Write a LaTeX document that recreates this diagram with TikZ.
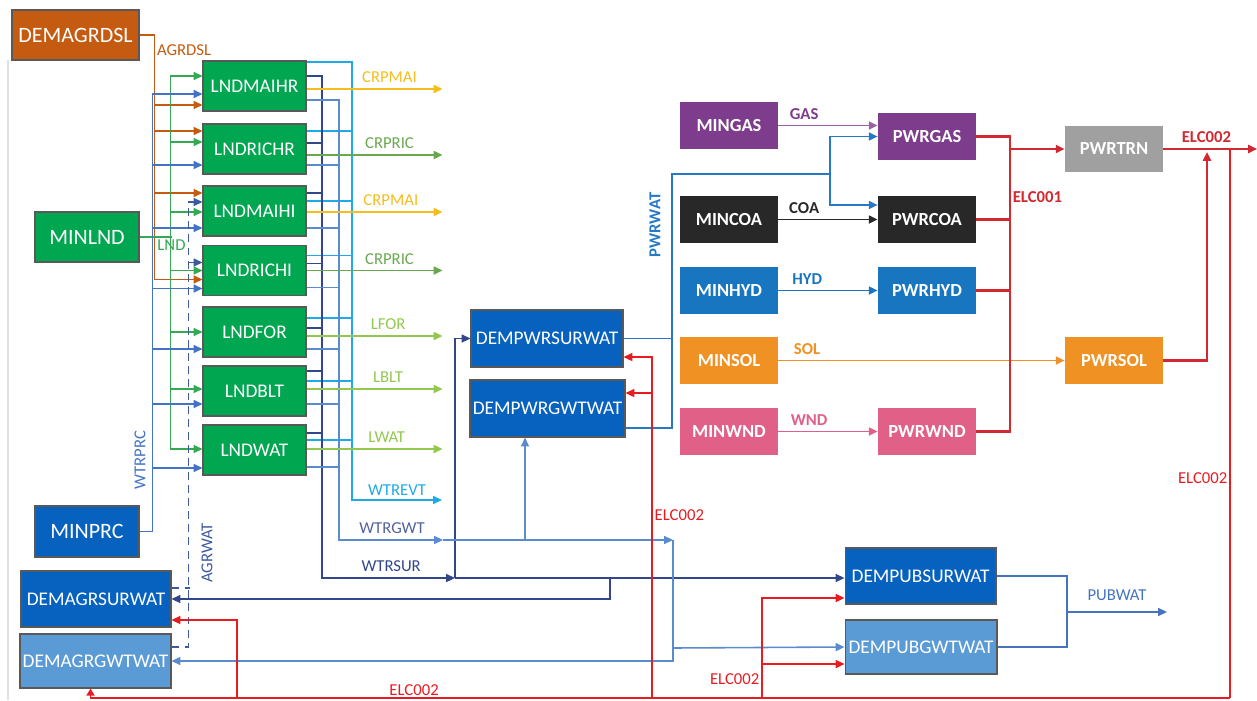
\documentclass[tikz,border=0pt]{standalone}
\usepackage{fontspec}
\setmainfont{Carlito}
\usetikzlibrary{arrows.meta,positioning,calc}
\definecolor{agrorange}{RGB}{197,90,17}
\definecolor{lndfill}{RGB}{0,166,80}
\definecolor{lndline}{RGB}{52,168,83}
\definecolor{prcblue}{RGB}{68,114,196}
\definecolor{agwblue}{RGB}{60,90,160}
\definecolor{surnavy}{RGB}{50,70,140}
\definecolor{gwtblue}{RGB}{90,140,205}
\definecolor{evtcyan}{RGB}{30,170,230}
\definecolor{maiyellow}{RGB}{245,190,30}
\definecolor{ricgreen}{RGB}{106,168,79}
\definecolor{lfgreen}{RGB}{146,200,80}
\definecolor{demblue}{RGB}{6,98,190}
\definecolor{demlight}{RGB}{91,155,213}
\definecolor{gaspurple}{RGB}{126,60,140}
\definecolor{coablack}{RGB}{40,40,40}
\definecolor{hydblue}{RGB}{24,118,192}
\definecolor{solorange}{RGB}{240,145,35}
\definecolor{wndpink}{RGB}{224,96,136}
\definecolor{trngray}{RGB}{160,160,160}
\definecolor{elcred}{RGB}{210,40,50}
\definecolor{elcbright}{RGB}{232,28,32}
\definecolor{pwwblue}{RGB}{40,120,200}
\definecolor{pubblue}{RGB}{70,115,190}

\begin{document}
\begin{tikzpicture}[
    x=0.02cm, y=-0.02cm,
    >={Triangle[length=5pt,width=4.5pt]},
    box/.style={draw=black!65, line width=0.6pt, text=white, inner sep=1pt, font=\fontsize{11}{13}\selectfont},
    bigbox/.style={box, font=\fontsize{12.5}{14}\selectfont},
    dslbox/.style={bigbox, fill=agrorange, minimum width=2.54cm, minimum height=1cm},
    lndbox/.style={box, fill=lndfill, minimum width=2.06cm, minimum height=1cm},
    tech/.style={text=white, inner sep=1pt, minimum width=1.96cm, minimum height=0.94cm, font=\fontsize{10.5}{12}\selectfont\bfseries},
    flow/.style={line width=0.9pt},
    dsl/.style={flow, draw=agrorange},
    lnd/.style={flow, draw=lndline},
    prc/.style={flow, draw=prcblue},
    agw/.style={flow, draw=agwblue},
    sur/.style={flow, line width=1pt, draw=surnavy},
    gwt/.style={flow, draw=gwtblue},
    evt/.style={flow, draw=evtcyan},
    mai/.style={flow, line width=1.1pt, draw=maiyellow},
    ric/.style={flow, line width=1.1pt, draw=ricgreen},
    lfg/.style={flow, line width=1.1pt, draw=lfgreen},
    pww/.style={flow, line width=1pt, draw=pwwblue},
    elc/.style={line width=1.2pt, draw=elcred},
    elcb/.style={line width=1.1pt, draw=elcbright},
    lbl/.style={font=\fontsize{9.5}{11}\selectfont, inner sep=1pt},
    blbl/.style={font=\fontsize{9.5}{11}\selectfont\bfseries, inner sep=1pt}
]
\useasboundingbox (0,0) rectangle (1257,700);
\draw[black!12, line width=1.5pt] (8,60) -- (8,700);

% Supply and demand boxes on the left
\node[dslbox] (demagrdsl) at (75.5,35) {DEMAGRDSL};
\node[bigbox, fill=lndfill, minimum width=2.08cm, minimum height=1cm] (minlnd) at (87,237) {MINLND};
\node[bigbox, fill=demblue, minimum width=2.08cm, minimum height=1.02cm] (minprc) at (87,531.5) {MINPRC};
\node[box, fill=demblue, minimum width=3cm, minimum height=1.12cm] (demagrsur) at (96,599) {DEMAGRSURWAT};
\node[box, fill=demlight, minimum width=3.02cm, minimum height=1.08cm] (demagrgwt) at (95.5,661) {DEMAGRGWTWAT};

% Land use technologies
\node[lndbox] (lndmaihr) at (254.5,86) {LNDMAIHR};
\node[lndbox] (lndrichr) at (254.5,149) {LNDRICHR};
\node[lndbox] (lndmaihi) at (254.5,211) {LNDMAIHI};
\node[lndbox] (lndrichi) at (254.5,270.5) {LNDRICHI};
\node[lndbox] (lndfor) at (254.5,332) {LNDFOR};
\node[lndbox] (lndblt) at (254.5,391) {LNDBLT};
\node[lndbox] (lndwat) at (254.5,450) {LNDWAT};

% Water demand of power and public sectors
\node[box, fill=demblue, minimum width=3.04cm, minimum height=1.14cm] (dempwrsur) at (547,338.5) {DEMPWRSURWAT};
\node[box, fill=demblue, minimum width=3.1cm, minimum height=1.14cm] (dempwrgwt) at (547.5,408.5) {DEMPWRGWTWAT};
\node[box, fill=demblue, minimum width=3.02cm, minimum height=1.12cm] (dempubsur) at (920.5,576) {DEMPUBSURWAT};
\node[box, fill=demlight, minimum width=3.04cm, minimum height=1.08cm] (dempubgwt) at (921,647) {DEMPUBGWTWAT};

% Fuel supply and power plants
\node[tech, fill=gaspurple] (mingas) at (729,125.5) {MINGAS};
\node[tech, fill=coablack] (mincoa) at (729,219.5) {MINCOA};
\node[tech, fill=hydblue] (minhyd) at (729,290.5) {MINHYD};
\node[tech, fill=solorange] (minsol) at (729,360.5) {MINSOL};
\node[tech, fill=wndpink] (minwnd) at (729,431.5) {MINWND};
\node[tech, fill=gaspurple] (pwrgas) at (927,136.5) {PWRGAS};
\node[tech, fill=coablack] (pwrcoa) at (927,219.5) {PWRCOA};
\node[tech, fill=hydblue] (pwrhyd) at (927,290.5) {PWRHYD};
\node[tech, fill=wndpink] (pwrwnd) at (927,431.5) {PWRWND};
\node[tech, fill=solorange] (pwrsol) at (1114,360.5) {PWRSOL};
\node[tech, fill=trngray, minimum height=0.92cm] (pwrtrn) at (1114,149) {PWRTRN};

% Junctions
\coordinate (surcorner) at (322,578);
\coordinate (sursplit) at (455,578);
\coordinate (surdrop) at (610,578);
\coordinate (gwtcorner) at (339,540);
\coordinate (gwtend) at (443,540);
\coordinate (gwtrise) at (525,540);
\coordinate (gwtsplit) at (673,540);
\coordinate (gwtpub) at (673,648);
\coordinate (evtcorner) at (352,500);
\coordinate (evtend) at (442,500);
\coordinate (pwrwatx) at (672,174);
\coordinate (pwrfork) at (830,174);
\coordinate (elcbus) at (1010,149);
\coordinate (elcout) at (1257,149);
\coordinate (solup) at (1207,152);
\coordinate (elcdown) at (1230,149);
\coordinate (elcbottom) at (1230,698);
\coordinate (agrelc) at (237,698);
\coordinate (pwrelc) at (652,698);
\coordinate (pubelc) at (762,698);
\coordinate (pubjoin) at (1067,612);
\coordinate (pubend) at (1167,612);

% AGRDSL
\draw[dsl,->] (demagrdsl.east) -| ($(lndrichi.west)+(-48,9)$) node[pos=0.53, right, lbl, text=agrorange] {AGRDSL} -- ($(lndrichi.west)+(0,9)$);
\draw[dsl,->] ($(lndmaihr.west)+(-48,19)$) -- ($(lndmaihr.west)+(0,19)$);
\draw[dsl,->] ($(lndrichr.west)+(-48,-18)$) -- ($(lndrichr.west)+(0,-18)$);
\draw[dsl,->] ($(lndmaihi.west)+(-48,-18)$) -- ($(lndmaihi.west)+(0,-18)$);

% LND
\draw[lnd] (minlnd.east) -- ++(32,0) node[below, lbl, text=lndline] {LND};
\draw[lnd,->] ($(lndwat.west)+(-32,-1)$) |- ($(lndmaihr.west)+(0,-10)$);
\draw[lnd,->] ($(lndwat.west)+(-32,-1)$) -- ($(lndwat.west)+(0,-1)$);
\draw[lnd,->] ($(lndrichr.west)+(-32,-7)$) -- ($(lndrichr.west)+(0,-7)$);
\draw[lnd,->] ($(lndmaihi.west)+(-32,1)$) -- ($(lndmaihi.west)+(0,1)$);
\draw[lnd,->] ($(lndrichi.west)+(-32,0)$) -- ($(lndrichi.west)+(0,0)$);
\draw[lnd,->] ($(lndfor.west)+(-32,0)$) -- ($(lndfor.west)+(0,0)$);
\draw[lnd,->] ($(lndblt.west)+(-32,-2)$) -- ($(lndblt.west)+(0,-2)$);

% WTRPRC
\draw[prc,->] (minprc.east) -| ($(lndmaihr.west)+(-50,8)$) -- ($(lndmaihr.west)+(0,8)$);
\draw[prc,->] ($(lndrichr.west)+(-50,16)$) -- ($(lndrichr.west)+(0,16)$);
\draw[prc,->] ($(lndmaihi.west)+(-50,17)$) -- ($(lndmaihi.west)+(0,17)$);
\draw[prc,->] ($(lndrichi.west)+(-50,18)$) -- ($(lndrichi.west)+(0,18)$);
\draw[prc,->] ($(lndfor.west)+(-50,17)$) -- ($(lndfor.west)+(0,17)$);
\draw[prc,->] ($(lndblt.west)+(-50,13)$) -- ($(lndblt.west)+(0,13)$);
\draw[prc,->] ($(lndwat.west)+(-50,18)$) -- ($(lndwat.west)+(0,18)$);
\node[lbl, text=prcblue, rotate=90] (wtrprc) at (140,460) {WTRPRC};

% AGRWAT (dashed)
\draw[agw, dash pattern=on 4.5pt off 3pt] ($(demagrgwt.east)+(0,-14)$) -| ($(lndmaihi.west)+(-14,-9)$);
\draw[agw, dash pattern=on 4.5pt off 3pt] ($(demagrsur.east)+(0,-11)$) -- ++(18,0);
\draw[agw,->] ($(lndmaihi.west)+(-14,-9)$) -- ($(lndmaihi.west)+(0,-9)$);
\draw[agw,->] ($(lndrichi.west)+(-14,-8)$) -- ($(lndrichi.west)+(0,-8)$);
\node[lbl, text=agwblue, rotate=90] (agrwat) at (207,553) {AGRWAT};

% WTREVT
\draw[evt,->] ($(lndmaihr.east)+(0,-24)$) -| (evtcorner) -- (evtend) node[pos=0.5, above=1pt, lbl, text=evtcyan] {WTREVT};
\draw[evt] ($(lndrichr.east)+(0,-18)$) -- ++(46,0);
\draw[evt] ($(lndmaihi.east)+(0,-10)$) -- ++(46,0);
\draw[evt] ($(lndrichi.east)+(0,-15)$) -- ++(46,0);
\draw[evt] ($(lndfor.east)+(0,-14)$) -- ++(46,0);
\draw[evt] ($(lndblt.east)+(0,-10)$) -- ++(46,0);
\draw[evt] ($(lndwat.east)+(0,-10)$) -- ++(46,0);

% WTRSUR
\draw[sur,->] ($(lndmaihr.east)+(0,-10)$) -| (surcorner) -- (sursplit) node[pos=0.52, above=2pt, lbl, text=surnavy] {WTRSUR};
\draw[sur] ($(lndrichr.east)+(0,-6)$) -- ++(16,0);
\draw[sur] ($(lndmaihi.east)+(0,-18)$) -- ++(16,0);
\draw[sur] ($(lndrichi.east)+(0,-7)$) -- ++(16,0);
\draw[sur] ($(lndfor.east)+(0,-4)$) -- ++(16,0);
\draw[sur] ($(lndblt.east)+(0,-20)$) -- ++(16,0);
\draw[sur] ($(lndwat.east)+(0,-17)$) -- ++(16,0);
\draw[sur,->] (sursplit) |- (dempwrsur.west);
\draw[sur,->] (sursplit) -- (sursplit -| dempubsur.west);
\draw[sur,->] (surdrop) |- (demagrsur.east);

% WTRGWT
\draw[gwt,->] ($(lndmaihr.east)+(0,14)$) -| (gwtcorner) -- (gwtend) node[pos=0.51, above=2pt, lbl, text=surnavy!85] {WTRGWT};
\draw[gwt] ($(lndrichr.east)+(0,16)$) -- ++(33,0);
\draw[gwt] ($(lndmaihi.east)+(0,17)$) -- ++(33,0);
\draw[gwt] ($(lndrichi.east)+(0,17)$) -- ++(33,0);
\draw[gwt] ($(lndfor.east)+(0,17)$) -- ++(33,0);
\draw[gwt] ($(lndblt.east)+(0,13)$) -- ++(33,0);
\draw[gwt] ($(lndwat.east)+(0,17)$) -- ++(33,0);
\draw[gwt,->] (gwtend) -- (gwtsplit);
\draw[gwt,->] (gwtrise) -- (gwtrise |- dempwrgwt.south);
\draw[gwt,->] (gwtsplit) |- (demagrgwt.east);
\draw[gwt,->] (gwtpub) -- (dempubgwt.west);

% Crop and land outputs
\draw[mai,->] ($(lndmaihr.east)+(0,3)$) -- ++(136,0) node[pos=0.61, above=2pt, lbl, text=maiyellow] {CRPMAI};
\draw[ric,->] ($(lndrichr.east)+(0,6)$) -- ++(136,0) node[pos=0.61, above=2pt, lbl, text=ricgreen] {CRPRIC};
\draw[mai,->] ($(lndmaihi.east)+(0,1)$) -- ++(136,0) node[pos=0.62, above=2pt, lbl, text=maiyellow] {CRPMAI};
\draw[ric,->] ($(lndrichi.east)+(0,0)$) -- ++(136,0) node[pos=0.61, above=2pt, lbl, text=ricgreen] {CRPRIC};
\draw[lfg,->] ($(lndfor.east)+(0,4)$) -- ++(136,0) node[pos=0.6, above=2pt, lbl, text=lfgreen] {LFOR};
\draw[lfg,->] ($(lndblt.east)+(0,-2)$) -- ++(136,0) node[pos=0.6, above=2pt, lbl, text=lfgreen] {LBLT};
\draw[lfg,->] ($(lndwat.east)+(0,-1)$) -- ++(136,0) node[pos=0.59, above=2pt, lbl, text=lfgreen] {LWAT};

% PWRWAT
\draw[pww] (dempwrsur.east) -| (pwrwatx);
\draw[pww] ($(dempwrgwt.east)+(0,19.5)$) -| (pwrwatx) -- (pwrfork);
\draw[pww,->] (pwrfork) |- (pwrgas.west);
\draw[pww,->] (pwrfork) |- ($(pwrcoa.west)+(0,-14.5)$);
\node[blbl, text=pwwblue, rotate=90] (pwrwat) at (655,225) {PWRWAT};

% Fuels
\draw[flow, line width=1.1pt, draw=gaspurple!80,->] (mingas.east) -- (mingas.east -| pwrgas.west) node[pos=0.26, above=2pt, blbl, text=gaspurple] {GAS};
\draw[flow, line width=1.1pt, draw=coablack,->] (mincoa.east) -- (pwrcoa.west) node[pos=0.26, above=2pt, blbl, text=coablack] {COA};
\draw[flow, line width=1.1pt, draw=hydblue,->] (minhyd.east) -- (pwrhyd.west) node[pos=0.29, above=2pt, blbl, text=hydblue] {HYD};
\draw[flow, line width=1.1pt, draw=solorange,->] (minsol.east) -- (pwrsol.west) node[pos=0.1, above=2pt, blbl, text=solorange] {SOL};
\draw[flow, line width=1.1pt, draw=wndpink,->] (minwnd.east) -- (pwrwnd.west) node[pos=0.31, above=2pt, blbl, text=wndpink] {WND};

% ELC001 and ELC002
\draw[elc] (pwrwnd.east) -| (elcbus) node[pos=0.915, right, blbl, text=elcred] {ELC001};
\draw[elc] (pwrgas.east) -| (elcbus);
\draw[elc] (pwrcoa.east) -- (pwrcoa.east -| elcbus);
\draw[elc] (pwrhyd.east) -- (pwrhyd.east -| elcbus);
\draw[elc,->] (elcbus) -- (pwrtrn.west);
\draw[elc,->] (pwrtrn.east) -- (elcout) node[pos=0.46, above=2pt, blbl, text=elcred] {ELC002};
\draw[elc,->] (pwrsol.east) -| (solup);
\draw[elcb] (elcdown) -- (elcbottom) node[pos=0.6, left, lbl, text=elcbright] {ELC002};
\draw[elcb,-{Triangle[length=4pt,width=4.5pt]}] (elcbottom) -| ($(demagrgwt.south)+(-5,0)$) node[pos=0.358, above, lbl, text=elcbright] {ELC002};
\draw[elcb,->] (agrelc) |- ($(demagrsur.east)+(0,21)$);
\draw[elcb,->] (pwrelc) |- ($(dempwrsur.east)+(0,18.5)$) node[pos=0.268, right, lbl, text=elcbright] {ELC002};
\draw[elcb,->] ($(pwrelc |- dempwrgwt.east)+(0,-15.5)$) -- ($(dempwrgwt.east)+(0,-15.5)$);
\draw[elcb,->] (pubelc) |- ($(dempubsur.west)+(0,22)$) node[pos=0.096, left, lbl, text=elcbright] {ELC002};
\draw[elcb,->] ($(pubelc |- dempubgwt.west)+(0,17)$) -- ($(dempubgwt.west)+(0,17)$);

% PUBWAT
\draw[flow, draw=pubblue] (dempubsur.east) -| (pubjoin);
\draw[flow, draw=pubblue] (dempubgwt.east) -| (pubjoin);
\draw[flow, draw=pubblue,->] (pubjoin) -- (pubend) node[midway, above=5pt, lbl, text=pubblue] {PUBWAT};

\end{tikzpicture}
\end{document}
